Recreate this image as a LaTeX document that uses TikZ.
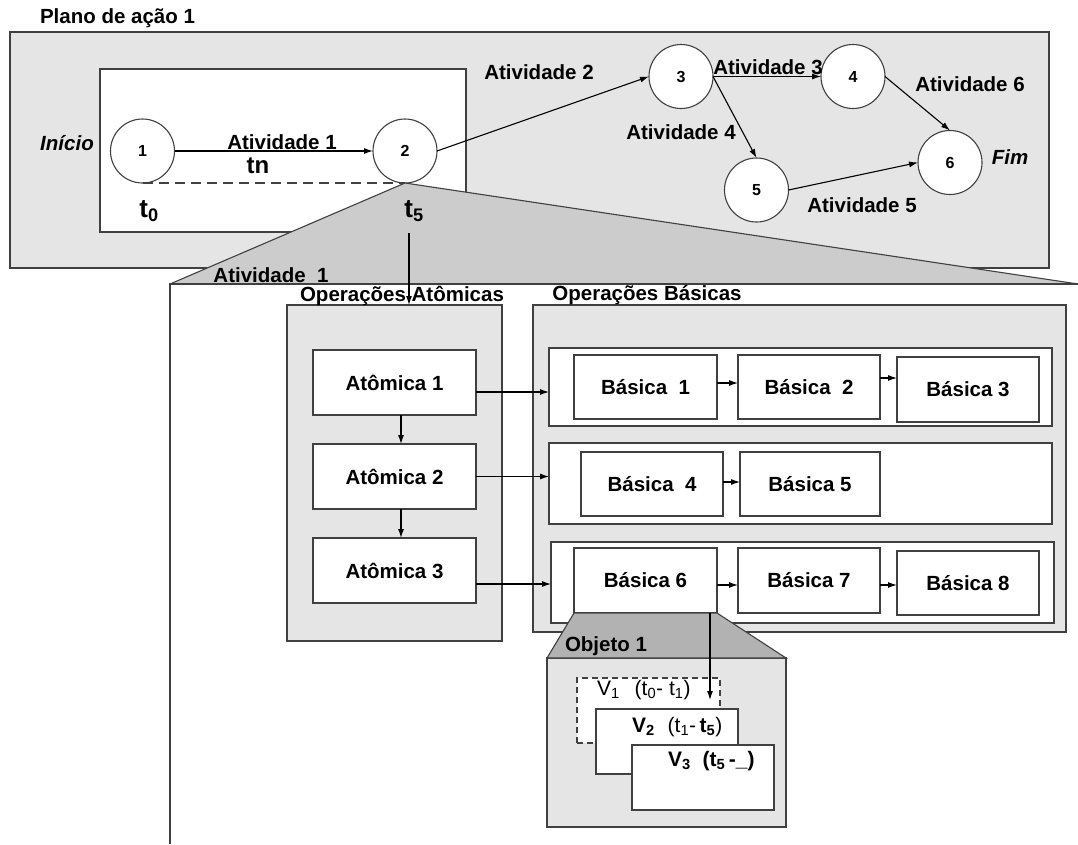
\documentclass[tikz,border=0pt]{standalone}
\usepackage{fontspec}
\setmainfont{Liberation Sans}
\usetikzlibrary{arrows.meta}
\definecolor{panel}{gray}{0.9}
\definecolor{funnel}{gray}{0.8}
\definecolor{funneldark}{gray}{0.7}
\definecolor{edge}{gray}{0.25}
\newcommand\labfont{\fontsize{20.5}{24}\selectfont\bfseries}
\newcommand\vfont{\fontsize{21}{24}\selectfont}
\begin{document}
\begin{tikzpicture}[x=1pt,y=-1pt,line width=1.1pt,
  every node/.style={inner sep=0pt,outer sep=0pt},
  lbl/.style={font=\labfont},
  ital/.style={font=\labfont\itshape},
  state/.style={circle,draw=edge,fill=white,minimum size=64pt,font=\fontsize{16}{18}\selectfont\bfseries},
  panelbox/.style={draw=edge,fill=panel},
  rowbox/.style={draw=edge,fill=white},
  opbox/.style={draw=edge,fill=white,font=\labfont},
  arr/.style={draw=black,-{Latex[length=9pt,width=6pt]}},
  tfont/.style={font=\fontsize{26}{28}\selectfont\bfseries},
]
\useasboundingbox (0,0) rectangle (1078,844);

% ---------- action plan ----------
\node[lbl,anchor=west] (plantitle) at (40,18) {Plano de ação 1};
\node[panelbox,minimum width=1039pt,minimum height=236pt] (plan) at (529.5,150) {};
\node[rowbox,minimum width=366pt,minimum height=163pt] (act) at (283,150.5) {};

\node[state] (n1) at (142.5,151) {1};
\node[state] (n2) at (405,151) {2};
\node[state] (n3) at (681,76.5) {3};
\node[state] (n4) at (853,76.5) {4};
\node[state] (n5) at (756.5,190) {5};
\node[state] (n6) at (950,162.5) {6};

% zoom funnel from node 2 down to the activity frame
\coordinate (fl) at (170,284);
\coordinate (fr) at (1078,284);
\fill[funnel] (n2.south) -- (fl) -- (fr) -- cycle;
\draw[edge] (fl) -- (n2.south) -- (fr);
\draw[edge] (170,844) -- (fl) -- (fr);

\draw[edge,dash pattern=on 10pt off 6pt] (n1.south) -- (n2.south);

\draw[arr] (n1.east) -- (n2.west);
\draw[arr] (n2.east) -- (n3.west);
\draw[arr] (n3.east) -- (n4.west);
\draw[arr] (n3.east) -- (n5.north);
\draw[arr] (n4.east) -- (n6.north);
\draw[arr] (n5.east) -- (n6.west);

\node[ital] (inicio) at (67,143) {Início};
\node[ital] (fim) at (1010,157) {Fim};
\node[lbl] (at1) at (282,142) {Atividade 1};
\node[lbl] (at2) at (539,72) {Atividade 2};
\node[lbl] (at3) at (768,67) {Atividade 3};
\node[lbl] (at4) at (681,132) {Atividade 4};
\node[lbl] (at5) at (862,205) {Atividade 5};
\node[lbl] (at6) at (970,84) {Atividade 6};
\node[font=\fontsize{24}{26}\selectfont\bfseries] (tn) at (258,166) {tn};
\node[tfont] (t0) at (149,211) {t\textsubscript{0}};
\node[tfont] (t5) at (414,211) {t\textsubscript{5}};

% ---------- activity 1 ----------
\node[lbl] (act1) at (271,275) {Atividade\ \ 1};

\node[panelbox,minimum width=215pt,minimum height=336pt] (atbox) at (394.5,473) {};
\node[panelbox,minimum width=533pt,minimum height=327pt] (bsbox) at (799.5,468.5) {};
\node[lbl] (attitle) at (402,296) {Operações Atômicas};
\node[lbl] (bstitle) at (647,295) {Operações Básicas};

\node[opbox,minimum width=163pt,minimum height=65pt] (a1) at (394.5,382.5) {Atômica 1};
\node[opbox,minimum width=163pt,minimum height=65pt] (a2) at (394.5,476.5) {Atômica 2};
\node[opbox,minimum width=163pt,minimum height=65pt] (a3) at (394.5,570.5) {Atômica 3};

\node[rowbox,minimum width=503pt,minimum height=78pt] (r1) at (800.5,387) {};
\node[rowbox,minimum width=503pt,minimum height=81pt] (r2) at (800.5,483.5) {};
\node[rowbox,minimum width=503pt,minimum height=81pt] (r3) at (802.5,582.5) {};

\node[opbox,minimum width=143pt,minimum height=64pt] (b1) at (645.5,387) {Básica\ \ 1};
\node[opbox,minimum width=142pt,minimum height=64pt] (b2) at (809,387) {Básica\ \ 2};
\node[opbox,minimum width=142pt,minimum height=65pt] (b3) at (968,389.5) {Básica 3};
\node[opbox,minimum width=142pt,minimum height=64pt] (b4) at (652,484) {Básica\ \ 4};
\node[opbox,minimum width=140pt,minimum height=64pt] (b5) at (810,484) {Básica 5};
\node[opbox,minimum width=143pt,minimum height=65pt] (b6) at (645.5,580.5) {Básica 6};
\node[opbox,minimum width=142pt,minimum height=65pt] (b7) at (809,580.5) {Básica 7};
\node[opbox,minimum width=142pt,minimum height=64pt] (b8) at (968,583) {Básica 8};

\coordinate (t5foot) at (409,233);
\draw[arr] (t5foot) -- (t5foot |- atbox.north);

\draw[arr] ([xshift=6.5pt]a1.south) -- ([xshift=6.5pt]a2.north);
\draw[arr] ([xshift=6.5pt]a2.south) -- ([xshift=6.5pt]a3.north);
\draw[arr] ([yshift=-9.5pt]a1.east) -- ([yshift=-9.5pt]a1.east -| r1.west);
\draw[arr] (a2.east) -- (a2.east -| r2.west);
\draw[arr] ([yshift=-13.5pt]a3.east) -- ([yshift=-13.5pt]a3.east -| r3.west);

\draw[arr] ([yshift=4pt]b1.east) -- ([yshift=4pt]b1.east -| b2.west);
\draw[arr] ([yshift=9pt]b2.east) -- ([yshift=9pt]b2.east -| b3.west);
\draw[arr] ([yshift=2pt]b4.east) -- ([yshift=2pt]b4.east -| b5.west);
\draw[arr] ([yshift=-4.5pt]b6.east) -- ([yshift=-4.5pt]b6.east -| b7.west);
\draw[arr] ([yshift=-4.5pt]b7.east) -- ([yshift=-4.5pt]b7.east -| b8.west);

% ---------- object 1 ----------
\node[panelbox,minimum width=239pt,minimum height=169pt] (obj) at (666.5,742.5) {};
\filldraw[draw=edge,fill=funneldark] (b6.south west) -- (b6.south east) -- (obj.north east) -- (obj.north west) -- cycle;
\node[lbl] (objtitle) at (606,646) {Objeto 1};

\node[draw=edge,fill=white,dashed,dash pattern=on 6pt off 4pt,minimum width=143pt,minimum height=65pt] (v1) at (648.5,710.5) {};
\node[rowbox,minimum width=142pt,minimum height=65pt] (v2) at (667,741.5) {};
\node[rowbox,minimum width=142pt,minimum height=65pt] (v3) at (703,777.5) {};

\node[font=\vfont,anchor=west] (v1t) at (597,690) {V\textsubscript{1}\hspace{15pt}(t\textsubscript{0}- t\textsubscript{1})};
\node[font=\vfont,anchor=west] (v2t) at (632,727) {\textbf{V\textsubscript{2}}\hspace{13pt}(t\textsubscript{1}-\,\textbf{t\textsubscript{5}})};
\node[font=\vfont\bfseries,anchor=west] (v3t) at (668,761) {V\textsubscript{3}\hspace{12pt}(t\textsubscript{5}\,-\_)};

\coordinate (vtip) at (710,700);
\draw[arr] ([xshift=-7pt]b6.south east) -- (vtip);
\end{tikzpicture}
\end{document}
